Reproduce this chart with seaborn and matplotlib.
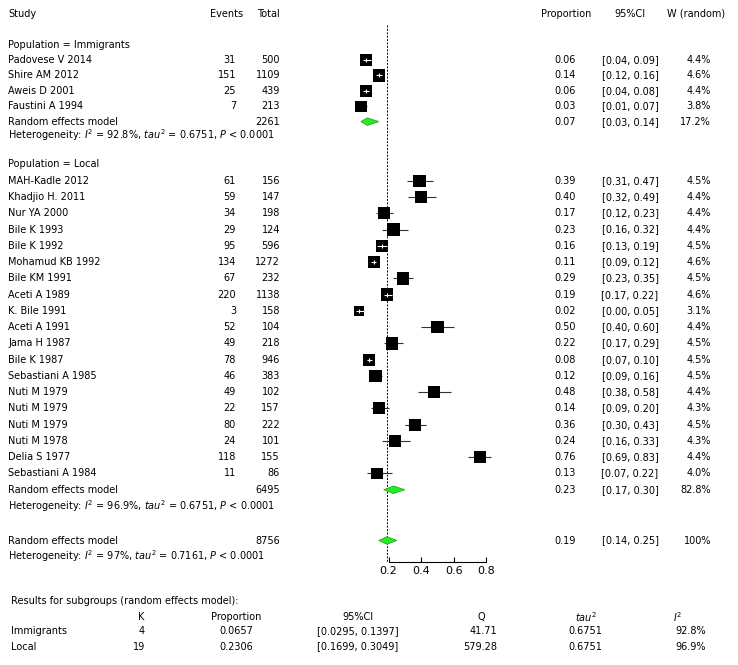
import numpy as np
import pandas as pd
import seaborn as sns
import matplotlib.pyplot as plt

# ---- data ----
imm_study = ["Padovese V 2014", "Shire AM 2012", "Aweis D 2001", "Faustini A 1994"]
imm_events = [31, 151, 25, 7]
imm_total = [500, 1109, 439, 213]
imm_prop = [0.06, 0.14, 0.06, 0.03]
imm_lo = [0.04, 0.12, 0.04, 0.01]
imm_hi = [0.09, 0.16, 0.08, 0.07]
imm_w = [4.4, 4.6, 4.4, 3.8]

loc_study = ["MAH-Kadle 2012", "Khadjio H. 2011", "Nur YA 2000", "Bile K 1993", "Bile K 1992",
             "Mohamud KB 1992", "Bile KM 1991", "Aceti A 1989", "K. Bile 1991", "Aceti A 1991",
             "Jama H 1987", "Bile K 1987", "Sebastiani A 1985", "Nuti M 1979", "Nuti M 1979",
             "Nuti M 1979", "Nuti M 1978", "Delia S 1977", "Sebastiani A 1984"]
loc_events = [61, 59, 34, 29, 95, 134, 67, 220, 3, 52, 49, 78, 46, 49, 22, 80, 24, 118, 11]
loc_total = [156, 147, 198, 124, 596, 1272, 232, 1138, 158, 104, 218, 946, 383, 102, 157, 222, 101, 155, 86]
loc_prop = [0.39, 0.40, 0.17, 0.23, 0.16, 0.11, 0.29, 0.19, 0.02, 0.50,
            0.22, 0.08, 0.12, 0.48, 0.14, 0.36, 0.24, 0.76, 0.13]
loc_lo = [0.31, 0.32, 0.12, 0.16, 0.13, 0.09, 0.23, 0.17, 0.00, 0.40,
          0.17, 0.07, 0.09, 0.38, 0.09, 0.30, 0.16, 0.69, 0.07]
loc_hi = [0.47, 0.49, 0.23, 0.32, 0.19, 0.12, 0.35, 0.22, 0.05, 0.60,
          0.29, 0.10, 0.16, 0.58, 0.20, 0.43, 0.33, 0.83, 0.22]
loc_w = [4.5, 4.4, 4.4, 4.4, 4.5, 4.6, 4.5, 4.6, 3.1, 4.4,
         4.5, 4.5, 4.5, 4.4, 4.3, 4.5, 4.3, 4.4, 4.0]

# random effects summaries: estimate, lower, upper, weight, total n
imm_re = [0.07, 0.03, 0.14, "17.2%", 2261]
loc_re = [0.23, 0.17, 0.30, "82.8%", 6495]
all_re = [0.19, 0.14, 0.25, "100%", 8756]
imm_het = ["92.8%", "0.6751", "< 0.0001"]
loc_het = ["96.9%", "0.6751", "< 0.0001"]
all_het = ["97%", "0.7161", "< 0.0001"]

# subgroup results table
sub_names = ["Immigrants", "Local"]
sub_k = [4, 19]
sub_prop = ["0.0657", "0.2306"]
sub_ci = ["[0.0295, 0.1397]", "[0.1699, 0.3049]"]
sub_q = ["41.71", "579.28"]
sub_tau2 = ["0.6751", "0.6751"]
sub_i2 = ["92.8%", "96.9%"]

xticks = [0.2, 0.4, 0.6, 0.8]

plt.rcParams['font.family'] = ['DejaVu Sans']
plt.rcParams['mathtext.fontset'] = 'dejavusans'
FS = 7.0

W, H = 738, 665
fig = plt.figure(figsize=(W / 100, H / 100), dpi=100)
tax = fig.add_axes([0, 0, 1, 1])
tax.set_xlim(0, W)
tax.set_ylim(H, 0)
tax.axis("off")

# forest panel: x in proportion units, y in pixel rows
px0, px_per = 356.0, 163.0
L, R, TOP, BOT = 350, 500, 20, 562
fax = fig.add_axes([L / W, (H - BOT) / H, (R - L) / W, (BOT - TOP) / H])
fax.patch.set_alpha(0)
fax.set_xlim((L - px0) / px_per, (R - px0) / px_per)
fax.set_ylim(BOT, TOP)

# row layout
imm_y = 60 + 15.4 * np.arange(len(imm_study))
imm_re_y = imm_y[-1] + 15.4
imm_het_y = imm_re_y + 13.5
loc_y = 180.8 + 16.26 * np.arange(len(loc_study))
loc_re_y = loc_y[-1] + 16.26
loc_het_y = loc_re_y + 16.3
all_re_y = 540.5
all_het_y = 556.5

df = pd.DataFrame({
    "study": imm_study + loc_study,
    "events": imm_events + loc_events,
    "total": imm_total + loc_total,
    "prop": imm_prop + loc_prop,
    "lo": imm_lo + loc_lo,
    "hi": imm_hi + loc_hi,
    "w": imm_w + loc_w,
})
df["y"] = np.concatenate([imm_y, loc_y])
df["side_px"] = 5.8 * np.sqrt(df["w"])
df["s"] = (df["side_px"] * 0.72) ** 2

# CI lines
fax.hlines(df["y"], df["lo"], df["hi"], color="#333333", lw=0.8, zorder=2)
sns.scatterplot(data=df, x="prop", y="y", marker="s", color="black", s=df["s"].tolist(),
                linewidth=0, legend=False, ax=fax, zorder=3)
# CI drawn in white when it fits inside the square
half = df["side_px"] / 2 / px_per
inside = (df["lo"] >= df["prop"] - half) & (df["hi"] <= df["prop"] + half)
d_in = df[inside]
fax.hlines(d_in["y"], d_in["lo"], d_in["hi"], color="white", lw=0.8, zorder=4)
fax.vlines(d_in["prop"], d_in["y"] - 2, d_in["y"] + 2, color="white", lw=0.8, zorder=4)

# summary diamonds
for (est, lo, hi, _, _), yy in [(imm_re, imm_re_y), (loc_re, loc_re_y), (all_re, all_re_y)]:
    fax.fill([lo, est, hi, est], [yy, yy - 3.8, yy, yy + 3.8], facecolor="#22ee22",
             edgecolor="#1a9a1a", lw=0.5, zorder=5)

fax.vlines(all_re[0], 25, BOT, color="black", lw=0.7, linestyles=(0, (2, 1.5)), zorder=1)

sns.despine(ax=fax, left=True)
fax.spines["bottom"].set_bounds(0.2, 0.8)
fax.spines["bottom"].set_linewidth(0.8)
fax.set_yticks([])
fax.set_xticks(xticks)
fax.set_xticklabels([f"{t:.1f}" for t in xticks])
fax.tick_params(axis="x", direction="in", length=3.5, width=0.8, pad=3, labelsize=8)
fax.set_xlabel("")
fax.set_ylabel("")

# ---- text columns ----
def txt(x, y, s, ha="left", **kw):
    tax.text(x, y, s, ha=ha, va="center", fontsize=FS, **kw)

txt(8, 14, "Study")
txt(243, 14, "Events", ha="right")
txt(280, 14, "Total", ha="right")
txt(566, 14, "Proportion", ha="center")
txt(630, 14, "95%CI", ha="center")
txt(696, 14, "W (random)", ha="center")

txt(8, 44.5, "Population = Immigrants")
txt(8, 164, "Population = Local")

for r in df.itertuples():
    txt(8, r.y, r.study)
    txt(236, r.y, str(r.events), ha="right")
    txt(280, r.y, str(r.total), ha="right")
    txt(576, r.y, f"{r.prop:.2f}", ha="right")
    txt(630, r.y, f"[{r.lo:.2f}, {r.hi:.2f}]", ha="center")
    txt(711, r.y, f"{r.w:.1f}%", ha="right")

for (est, lo, hi, wtxt, n), yy in [(imm_re, imm_re_y), (loc_re, loc_re_y), (all_re, all_re_y)]:
    txt(8, yy, "Random effects model")
    txt(280, yy, str(n), ha="right")
    txt(576, yy, f"{est:.2f}", ha="right")
    txt(630, yy, f"[{lo:.2f}, {hi:.2f}]", ha="center")
    txt(711, yy, wtxt, ha="right")

for (i2, t2, p), yy in [(imm_het, imm_het_y), (loc_het, loc_het_y), (all_het, all_het_y)]:
    txt(8, yy, rf"Heterogeneity: $I^2$ = {i2}, $\mathit{{tau}}^2$ = {t2}, $P$ {p}")

# subgroup table
txt(11, 600.7, "Results for subgroups (random effects model):")
hy = 616.7
txt(141, hy, "K", ha="center")
txt(236, hy, "Proportion", ha="center")
txt(358, hy, "95%CI", ha="center")
txt(481, hy, "Q", ha="center")
txt(586, hy, r"$\mathit{tau}^2$", ha="center")
txt(678, hy, r"$I^2$", ha="center")
for i, yy in enumerate([631.5, 646.5]):
    txt(11, yy, sub_names[i])
    txt(145, yy, str(sub_k[i]), ha="right")
    txt(236, yy, sub_prop[i], ha="center")
    txt(358, yy, sub_ci[i], ha="center")
    txt(497, yy, sub_q[i], ha="right")
    txt(585, yy, sub_tau2[i], ha="center")
    txt(691, yy, sub_i2[i], ha="center")

fig.savefig("out.png", dpi=100, facecolor="white")
